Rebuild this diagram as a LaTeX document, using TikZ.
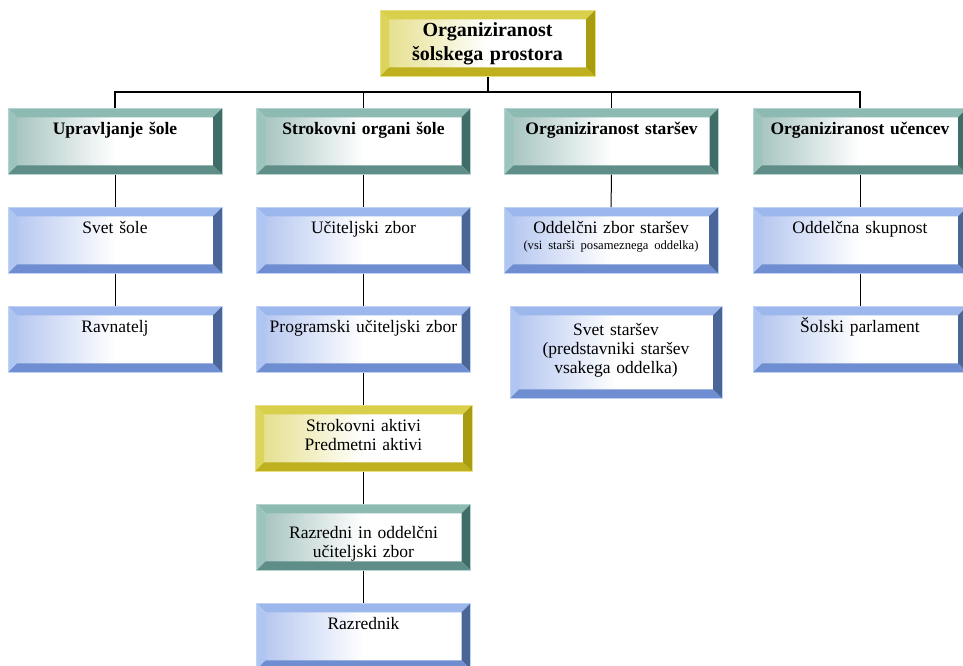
\documentclass[tikz,border=0pt]{standalone}
\usepackage{fontspec}
\setmainfont{Liberation Serif}
\usepackage{tikz}
\usetikzlibrary{positioning}

\definecolor{tealtop}{HTML}{8DBAB3}
\definecolor{tealleft}{HTML}{9CC4BE}
\definecolor{tealright}{HTML}{3F6D67}
\definecolor{tealbot}{HTML}{5E8E87}
\definecolor{tealin}{HTML}{A9C6C2}
\definecolor{tealedge}{HTML}{B5D3CF}
\definecolor{bluetop}{HTML}{9CB7EC}
\definecolor{blueleft}{HTML}{AFC6F2}
\definecolor{blueright}{HTML}{4A6597}
\definecolor{bluebot}{HTML}{6F8ED2}
\definecolor{bluein}{HTML}{B7C8F0}
\definecolor{blueedge}{HTML}{C0D2F5}
\definecolor{goldtop}{HTML}{D8CF4A}
\definecolor{goldleft}{HTML}{DDD45C}
\definecolor{goldright}{HTML}{A89C10}
\definecolor{goldbot}{HTML}{BFB020}
\definecolor{goldin}{HTML}{E6E090}
\definecolor{goldedge}{HTML}{E8E080}

\newcommand\boxfont{\fontsize{17.5}{19}\selectfont}
\newcommand\topfont{\fontsize{20}{24}\selectfont\bfseries}
\newcommand\smallnote{\fontsize{12.6}{15}\selectfont}

\tikzset{
  bevelbox/.style={
    draw=#1edge, line width=0.6pt, minimum width=214pt, text width=196pt,
    align=center, inner xsep=9pt, inner ysep=0pt, text height=26pt,
    text depth=40pt, anchor=north, font=\boxfont,
    path picture={
      \path (path picture bounding box.south west) coordinate (sw)
            (path picture bounding box.north east) coordinate (ne)
            (path picture bounding box.north west) coordinate (nw)
            (path picture bounding box.south east) coordinate (se);
      \shade[left color=#1in, right color=white, middle color=white]
        ([shift={(9pt,-9pt)}]nw) rectangle ([shift={(-9pt,9pt)}]se);
      \fill[#1top] (nw) -- (ne) -- ([shift={(-9pt,-9pt)}]ne) -- ([shift={(9pt,-9pt)}]nw) -- cycle;
      \fill[#1left] (nw) -- ([shift={(9pt,-9pt)}]nw) -- ([shift={(9pt,9pt)}]sw) -- (sw) -- cycle;
      \fill[#1right] (ne) -- (se) -- ([shift={(-9pt,9pt)}]se) -- ([shift={(-9pt,-9pt)}]ne) -- cycle;
      \fill[#1bot] (sw) -- (se) -- ([shift={(-9pt,9pt)}]se) -- ([shift={(9pt,9pt)}]sw) -- cycle;
    }},
  link/.style={line width=1pt},
}

\begin{document}
\begin{tikzpicture}[x=1pt,y=-1pt]
  \useasboundingbox (0,0) rectangle (963,665);

  % top box
  \node[bevelbox=gold, font=\topfont, minimum width=215pt, text width=197pt] (top) at (487.5,10) {Organiziranost\\šolskega prostora};
  \coordinate (hub) at (487.5,92);

  % first row
  \node[bevelbox=teal, font=\boxfont\bfseries] (upr) at (115,108) {Upravljanje šole};
  \node[bevelbox=teal, font=\boxfont\bfseries] (strok) at (363.5,108) {Strokovni organi šole};
  \node[bevelbox=teal, font=\boxfont\bfseries] (starsi) at (611.5,108) {Organiziranost staršev};
  \node[bevelbox=teal, font=\boxfont\bfseries] (ucenci) at (860,108) {Organiziranost učencev};

  % Upravljanje
  \node[bevelbox=blue] (svet) at (115,207) {Svet šole};
  \node[bevelbox=blue] (ravn) at (115,306) {Ravnatelj};

  % Strokovni organi
  \node[bevelbox=blue] (uzbor) at (363.5,207) {Učiteljski zbor};
  \node[bevelbox=blue] (prog) at (363.5,306) {Programski učiteljski zbor};
  \node[bevelbox=gold, minimum width=217pt, text depth=40pt] (aktivi) at (363.5,405) {Strokovni aktivi\\Predmetni aktivi};
  \node[bevelbox=teal, text height=34pt, text depth=32pt] (razzbor) at (363.5,504) {Razredni in oddelčni\\učiteljski zbor};
  \node[bevelbox=blue] (razrednik) at (363.5,603) {Razrednik};

  % Organiziranost starsev
  \node[bevelbox=blue] (oddzbor) at (611,207) {Oddelčni zbor staršev\\[-3pt]{\smallnote (vsi starši posameznega oddelka)}};
  \node[bevelbox=blue, minimum width=212pt, text width=194pt, text height=29pt, text depth=63pt] (svetst) at (616,306) {Svet staršev\\(predstavniki staršev\\vsakega oddelka)};

  % Organiziranost ucencev
  \node[bevelbox=blue] (oddsk) at (860,207) {Oddelčna skupnost};
  \node[bevelbox=blue] (parl) at (860,306) {Šolski parlament};

  % Connect
  \draw[line width=2pt] (top.south) -- (hub);
  \draw[line width=1.4pt] (upr.north) |- (hub) -| (ucenci.north);
  \draw[link] (hub -| strok.north) -- (strok.north);
  \draw[link] (hub -| starsi.north) -- (starsi.north);

  \draw[link] (upr) -- (svet);
  \draw[link] (svet) -- (ravn);
  \draw[link] (strok) -- (uzbor);
  \draw[link] (uzbor) -- (prog);
  \draw[link] (prog) -- (aktivi);
  \draw[link] (aktivi) -- (razzbor);
  \draw[link] (razzbor) -- (razrednik);
  \draw[link] (starsi) -- (oddzbor);
  \draw[link] (ucenci) -- (oddsk);
  \draw[link] (oddsk) -- (parl);
\end{tikzpicture}
\end{document}
